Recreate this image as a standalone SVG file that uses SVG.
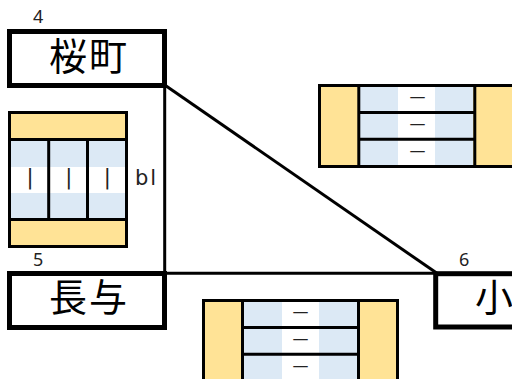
<svg xmlns="http://www.w3.org/2000/svg" width="512" height="379" viewBox="0 0 512 379">
<style>
.n{fill:#fff;stroke:#000;stroke-width:5}
.t{font-family:"Noto Sans CJK JP","Noto Sans",sans-serif;font-size:38px;letter-spacing:2px;text-anchor:middle;fill:#000}
.l{font-family:"Noto Sans",sans-serif;font-size:18px;fill:#222}
.a{font-family:"DejaVu Sans",sans-serif;font-size:21px;letter-spacing:2px;fill:#222}
.c{font-family:"DejaVu Sans",sans-serif;font-size:16px;text-anchor:middle;fill:#222}
.v{font-family:"DejaVu Sans",sans-serif;font-size:21px;text-anchor:middle;fill:#222}
.y{fill:#ffe396}.b{fill:#dce9f5}.w{fill:#fff}
.k{fill:none;stroke:#000;stroke-width:3}
.e{fill:none;stroke:#000;stroke-width:3}
</style>
<rect width="512" height="379" fill="#fff"/>
<g id="connectors">
<path class="e" d="M164.7 85V273.3H436"/>
<path class="e" d="M164.7 85L437 273.3"/>
</g>
<g id="node-4">
<rect class="n" x="9.5" y="31.5" width="155" height="54"/>
<text class="t" x="89" y="70">桜町</text>
<text class="l" x="33" y="23">4</text>
</g>
<g id="node-5">
<rect class="n" x="9.5" y="273.5" width="155" height="54"/>
<text class="t" x="89" y="311">長与</text>
<text class="l" x="33" y="266">5</text>
</g>
<g id="node-6">
<rect class="n" x="435.7" y="273.7" width="90" height="53.3"/>
<text class="t" x="495" y="311">小</text>
<text class="l" x="459" y="266">6</text>
</g>
<g id="table-left">
<rect class="y" x="9.5" y="112.5" width="117" height="134"/>
<rect class="b" x="11" y="141" width="114" height="77"/>
<rect class="w" x="11" y="167" width="114" height="26"/>
<rect class="k" x="9.5" y="112.5" width="117" height="134"/>
<path class="k" d="M9.5 139.5H126.5M9.5 219.5H126.5M48.7 139.5V219.5M87.5 139.5V219.5"/>
<text class="v" x="30" y="184">|</text>
<text class="v" x="68.7" y="184">|</text>
<text class="v" x="107.3" y="184">|</text>
<text class="a" x="135" y="185">bl</text>
</g>
<g id="table-top">
<rect class="y" x="319.5" y="85.5" width="200" height="81"/>
<rect class="b" x="360" y="87" width="113" height="78"/>
<rect class="w" x="398" y="87" width="37" height="78"/>
<rect class="k" x="319.5" y="85.5" width="200" height="81"/>
<path class="k" d="M358.8 85.5V166.5M474.8 85.5V166.5M358.8 112.5H474.8M358.8 139.3H474.8"/>
<text class="c" x="417.5" y="102">—</text>
<text class="c" x="417.5" y="129">—</text>
<text class="c" x="417.5" y="156">—</text>
</g>
<g id="table-bottom">
<rect class="y" x="203.5" y="300.5" width="194" height="90"/>
<rect class="b" x="244" y="302" width="113" height="80"/>
<rect class="w" x="282" y="302" width="37" height="80"/>
<rect class="k" x="203.5" y="300.5" width="194" height="90"/>
<path class="k" d="M242.5 300.5V382M358.5 300.5V382M242.5 327.4H358.5M242.5 354.2H358.5"/>
<text class="c" x="300.5" y="317">—</text>
<text class="c" x="300.5" y="344">—</text>
<text class="c" x="300.5" y="371">—</text>
</g>
</svg>
